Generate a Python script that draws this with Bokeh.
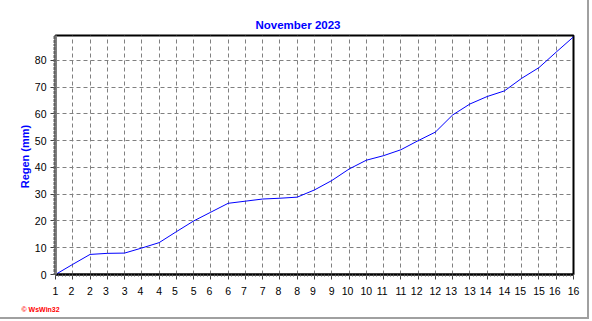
from bokeh.plotting import figure
from bokeh.models import Range1d, FixedTicker, Title, AllLabels, CustomJSTickFormatter
from bokeh.embed import file_html
from bokeh.resources import INLINE

# half-day steps from 1 Nov to 16 Nov
steps = list(range(31))
rain = [0.0, 3.8, 7.5, 7.9, 8.0, 9.9, 11.9, 16.0, 20.0, 23.3, 26.6, 27.4, 28.2,
        28.5, 28.9, 31.6, 35.1, 39.4, 42.7, 44.4, 46.6, 50.0, 53.2, 59.6, 63.7,
        66.5, 68.6, 73.3, 77.3, 83.1, 88.8]
x_labels = ["1", "2", "2", "3", "3", "4", "4", "5", "5", "6", "6", "7", "7", "8", "8",
            "9", "9", "10", "10", "11", "11", "12", "12", "13", "13", "14", "14",
            "15", "15", "16", "16"]
y_ticks = [0, 10, 20, 30, 40, 50, 60, 70, 80]
title_text = "November 2023"
y_label = "Regen  (mm)"
credit = "© WsWin32"

FONT = "Liberation Sans"

p = figure(width=589, height=319, output_backend="svg", toolbar_location=None,
           x_range=Range1d(0, 30), y_range=Range1d(0, 89.3),
           min_border_left=55, min_border_right=16, min_border_top=35, min_border_bottom=45,
           styles={"border-right": "2px solid #a0a0a0", "border-bottom": "2px solid #a0a0a0"})
p.background_fill_color = "white"
p.border_fill_color = "white"
p.outline_line_color = "black"
p.outline_line_width = 2

p.line(steps, rain, line_color="#0000ff", line_width=1)

# axes
xticker = FixedTicker(ticks=steps, minor_ticks=[s / 5 for s in range(0, 151)])
p.xaxis[0].ticker = xticker
p.xgrid[0].ticker = xticker
# identical neighbouring labels are kept distinct by a trailing space
p.xaxis[0].formatter = CustomJSTickFormatter(
    args=dict(labels=x_labels),
    code="""
const i = Math.round(tick);
if (i < 0 || i >= labels.length) return '';
return (i % 2 == 1) ? labels[i] + ' ' : labels[i];
""")
p.xaxis[0].major_label_policy = AllLabels()
yticker = FixedTicker(ticks=y_ticks, minor_ticks=[v / 2 for v in range(0, 179)])
p.yaxis[0].ticker = yticker
p.ygrid[0].ticker = yticker

for ax in (p.xaxis[0], p.yaxis[0]):
    ax.major_label_text_font = FONT
    ax.major_label_text_font_size = "10.5px"
    ax.major_label_text_color = "black"
    ax.major_tick_line_color = "#404040"
    ax.major_tick_out = 5
    ax.major_tick_in = 0
    ax.minor_tick_line_color = "#606060"
    ax.minor_tick_out = 2
    ax.minor_tick_in = 0

p.xaxis.axis_line_color = "black"
p.xaxis.axis_line_width = 2
p.xaxis.major_label_standoff = 5

p.yaxis.axis_line_color = "#808080"
p.yaxis.axis_line_width = 3
p.yaxis.major_label_standoff = 4
p.yaxis.axis_label = y_label
p.yaxis.axis_label_text_font = FONT
p.yaxis.axis_label_text_font_style = "bold"
p.yaxis.axis_label_text_font_size = "11px"
p.yaxis.axis_label_text_color = "#0000ff"
p.yaxis.axis_label_standoff = 1

# grid
p.xgrid.grid_line_color = "#808080"
p.xgrid.grid_line_dash = "4 3"
p.xgrid.grid_line_width = 1
p.ygrid.grid_line_color = "#808080"
p.ygrid.grid_line_dash = "4 3"
p.ygrid.grid_line_width = 1

# title above, credit below
p.title = Title(text=title_text, align="left", offset=200, standoff=10,
                text_font=FONT, text_font_style="bold", text_font_size="11.5px",
                text_color="#0000ff")
p.add_layout(Title(text=credit, align="left", offset=-34, standoff=9,
                   text_font=FONT, text_font_style="bold", text_font_size="7px",
                   text_color="#ff0000"), "below")

open("out.html", "w").write(file_html(p, INLINE))
